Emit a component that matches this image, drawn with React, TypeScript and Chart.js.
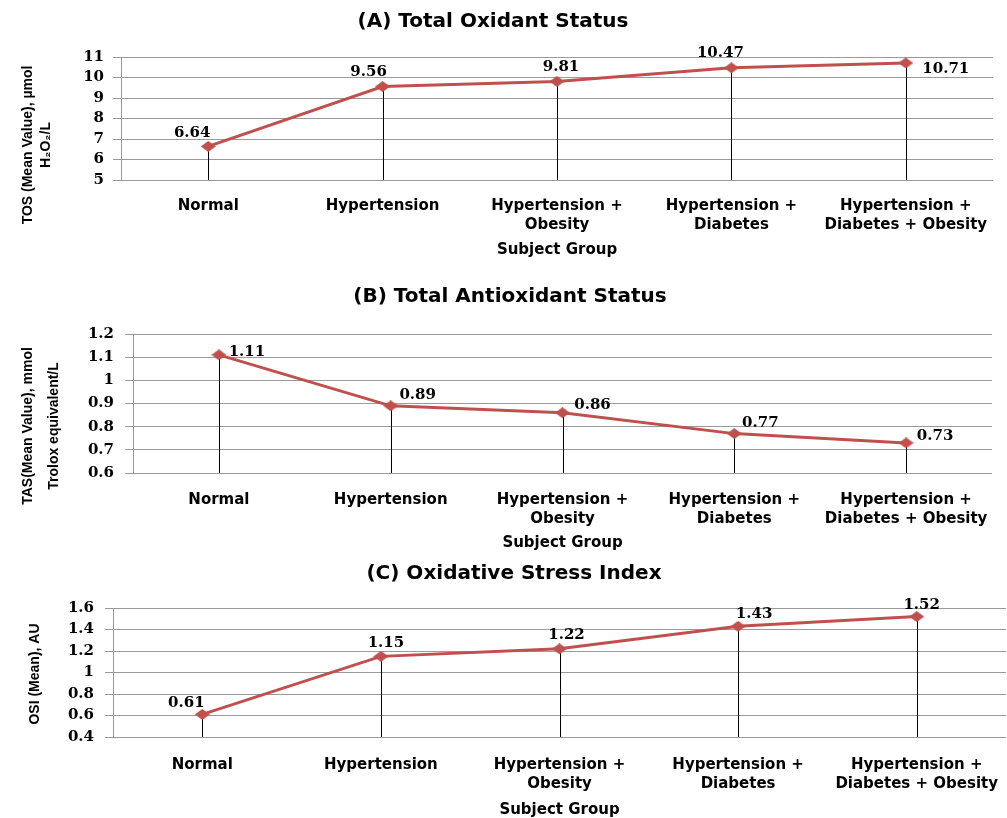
import React, { useEffect, useRef } from "react";
import { Chart, registerables } from "chart.js";

Chart.register(...registerables);

// ---------- data ----------
const categories: (string | string[])[] = [
  "Normal",
  "Hypertension",
  ["Hypertension +", "Obesity"],
  ["Hypertension +", "Diabetes"],
  ["Hypertension +", "Diabetes + Obesity"],
];

const tosValues = [6.64, 9.56, 9.81, 10.47, 10.71];
const tasValues = [1.11, 0.89, 0.86, 0.77, 0.73];
const osiValues = [0.61, 1.15, 1.22, 1.43, 1.52];

const tosTicks = [5, 6, 7, 8, 9, 10, 11];
const tasTicks = [0.6, 0.7, 0.8, 0.9, 1, 1.1, 1.2];
const osiTicks = [0.4, 0.6, 0.8, 1, 1.2, 1.4, 1.6];

const xAxisTitle = "Subject Group";

// ---------- label placement (offsets from each point, px) ----------
const tosLabelOffsets = [[-16, -13], [-14, -14], [4, -14], [-11, -15], [40, 6]];
const tasLabelOffsets = [[28, -3], [27, -11], [30, -8], [26, -11], [29, -7]];
const osiLabelOffsets = [[-16, -11], [5, -13], [7, -14], [16, -12], [5, -11]];

// ---------- style ----------
const LINE_COLOR = "#C0504D";
const GRID_COLOR = "#9a9a9a";
const W = 1007;

type Panel = {
  title: string;
  yTitle: string[];
  values: number[];
  ticks: number[];
  offsets: number[][];
  top: number;
  height: number;
  area: { left: number; right: number; top: number; bottom: number };
  padBottom: number;
  titlePos: [number, number];
  yTitleBaselines: number[];
  yTitleCenter: number;
  tickPad: number;
  xPad: number;
};

const panels: Panel[] = [
  {
    title: "(A) Total Oxidant Status",
    yTitle: ["TOS (Mean Value), µmol", "H₂O₂/L"],
    values: tosValues,
    ticks: tosTicks,
    offsets: tosLabelOffsets,
    top: 0,
    height: 268,
    area: { left: 121, right: 993, top: 57, bottom: 180 },
    padBottom: 10,
    titlePos: [493, 22],
    yTitleBaselines: [32, 50],
    yTitleCenter: 145,
    tickPad: 9,
    xPad: 17,
  },
  {
    title: "(B) Total Antioxidant Status",
    yTitle: ["TAS(Mean Value), mmol", "Trolox equivalent/L"],
    values: tasValues,
    ticks: tasTicks,
    offsets: tasLabelOffsets,
    top: 268,
    height: 286,
    area: { left: 133, right: 992, top: 66, bottom: 205 },
    padBottom: 3,
    titlePos: [510, 29],
    yTitleBaselines: [32, 58],
    yTitleCenter: 158,
    tickPad: 11,
    xPad: 18,
  },
  {
    title: "(C) Oxidative Stress Index",
    yTitle: ["OSI (Mean), AU"],
    values: osiValues,
    ticks: osiTicks,
    offsets: osiLabelOffsets,
    top: 554,
    height: 264,
    area: { left: 113, right: 1006, top: 54, bottom: 183 },
    padBottom: 0,
    titlePos: [514, 20],
    yTitleBaselines: [39],
    yTitleCenter: 120,
    tickPad: 11,
    xPad: 19,
  },
];

const SANS = "'DejaVu Sans', Verdana, sans-serif";
const SERIF = "'DejaVu Serif', Georgia, serif";
const NARROW = "'Liberation Sans', Arial, sans-serif";

function makeDiamond(w: number, h: number, color: string) {
  const c = document.createElement("canvas");
  c.width = w;
  c.height = h;
  const g = c.getContext("2d")!;
  g.fillStyle = color;
  g.beginPath();
  g.moveTo(w / 2, 0);
  g.lineTo(w, h / 2);
  g.lineTo(w / 2, h);
  g.lineTo(0, h / 2);
  g.closePath();
  g.fill();
  return c;
}

function PanelChart({ p }: { p: Panel }) {
  const ref = useRef<HTMLCanvasElement | null>(null);

  useEffect(() => {
    if (!ref.current) return;
    const xH = p.height - p.area.bottom - p.padBottom;

    const dropLines = {
      id: "dropLines",
      beforeDatasetsDraw(chart: any) {
        const ctx = chart.ctx;
        const meta = chart.getDatasetMeta(0);
        ctx.save();
        ctx.strokeStyle = "#000";
        ctx.lineWidth = 1;
        meta.data.forEach((pt: any) => {
          const x = Math.round(pt.x) + 0.5;
          ctx.beginPath();
          ctx.moveTo(x, pt.y);
          ctx.lineTo(x, chart.chartArea.bottom);
          ctx.stroke();
        });
        ctx.restore();
      },
    };

    const valueLabels = {
      id: "valueLabels",
      afterDatasetsDraw(chart: any) {
        const ctx = chart.ctx;
        const meta = chart.getDatasetMeta(0);
        ctx.save();
        ctx.font = `bold 15px ${SERIF}`;
        ctx.fillStyle = "#000";
        ctx.textAlign = "center";
        ctx.textBaseline = "middle";
        meta.data.forEach((pt: any, i: number) => {
          const [dx, dy] = p.offsets[i];
          ctx.fillText(p.values[i].toFixed(2), pt.x + dx, pt.y + dy);
        });
        ctx.restore();
      },
    };

    const panelText = {
      id: "panelText",
      afterDraw(chart: any) {
        const ctx = chart.ctx;
        ctx.save();
        ctx.fillStyle = "#000";
        ctx.font = `bold 20px ${SANS}`;
        ctx.textAlign = "center";
        ctx.textBaseline = "middle";
        ctx.fillText(p.title, p.titlePos[0], p.titlePos[1]);
        ctx.font = `bold 14px ${NARROW}`;
        ctx.textBaseline = "alphabetic";
        p.yTitle.forEach((line, i) => {
          ctx.save();
          ctx.translate(p.yTitleBaselines[i], p.yTitleCenter);
          ctx.rotate(-Math.PI / 2);
          ctx.fillText(line, 0, 0);
          ctx.restore();
        });
        ctx.restore();
      },
    };

    const chart = new Chart(ref.current, {
      type: "line",
      data: {
        labels: categories as any,
        datasets: [
          {
            data: p.values,
            borderColor: LINE_COLOR,
            backgroundColor: LINE_COLOR,
            borderWidth: 3,
            tension: 0,
            pointStyle: makeDiamond(15, 11, LINE_COLOR) as any,
            pointRadius: 6,
            pointHoverRadius: 6,
            clip: false as any,
          },
        ],
      },
      options: {
        responsive: false,
        maintainAspectRatio: false,
        animation: false,
        events: [],
        layout: {
          autoPadding: false,
          padding: {
            top: p.area.top,
            left: 0,
            right: W - p.area.right,
            bottom: p.padBottom,
          },
        },
        plugins: {
          legend: { display: false },
          tooltip: { enabled: false },
          title: { display: false },
        },
        scales: {
          x: {
            offset: true,
            grid: { display: false, drawTicks: true, tickLength: p.xPad },
            border: { display: false },
            ticks: {
              color: "#000",
              font: { family: SANS, size: 15, weight: "bold", lineHeight: 1.25 },
              padding: 0,
              maxRotation: 0,
              minRotation: 0,
              autoSkip: false,
            },
            title: {
              display: true,
              text: xAxisTitle,
              color: "#000",
              font: { family: SANS, size: 15, weight: "bold", lineHeight: 1 },
              padding: { top: 0, bottom: 0 },
            },
            afterFit: (s: any) => {
              s.height = xH;
              s.paddingLeft = 0;
              s.paddingRight = 0;
            },
          },
          y: {
            min: p.ticks[0],
            max: p.ticks[p.ticks.length - 1],
            grid: { color: GRID_COLOR, lineWidth: 1, tickLength: 8, drawTicks: true },
            border: { display: true, color: GRID_COLOR, width: 1 },
            ticks: {
              color: "#000",
              font: { family: SERIF, size: 15, weight: "bold" },
              padding: p.tickPad,
              autoSkip: false,
              callback: (v: any) => String(Number(Number(v).toFixed(2))),
            },
            afterBuildTicks: (s: any) => {
              s.ticks = p.ticks.map((v) => ({ value: v }));
            },
            afterFit: (s: any) => {
              s.width = p.area.left;
            },
          },
        },
      } as any,
      plugins: [dropLines, valueLabels, panelText],
    });
    return () => chart.destroy();
  }, [p]);

  return (
    <canvas
      ref={ref}
      width={W}
      height={p.height}
      style={{ position: "absolute", left: 0, top: p.top, display: "block" }}
    />
  );
}

export default function App() {
  return (
    <div
      style={{
        position: "absolute",
        left: 0,
        top: 0,
        width: W,
        height: 818,
        background: "#fff",
        overflow: "hidden",
      }}
    >
      {panels.map((p, i) => (
        <PanelChart key={i} p={p} />
      ))}
    </div>
  );
}
